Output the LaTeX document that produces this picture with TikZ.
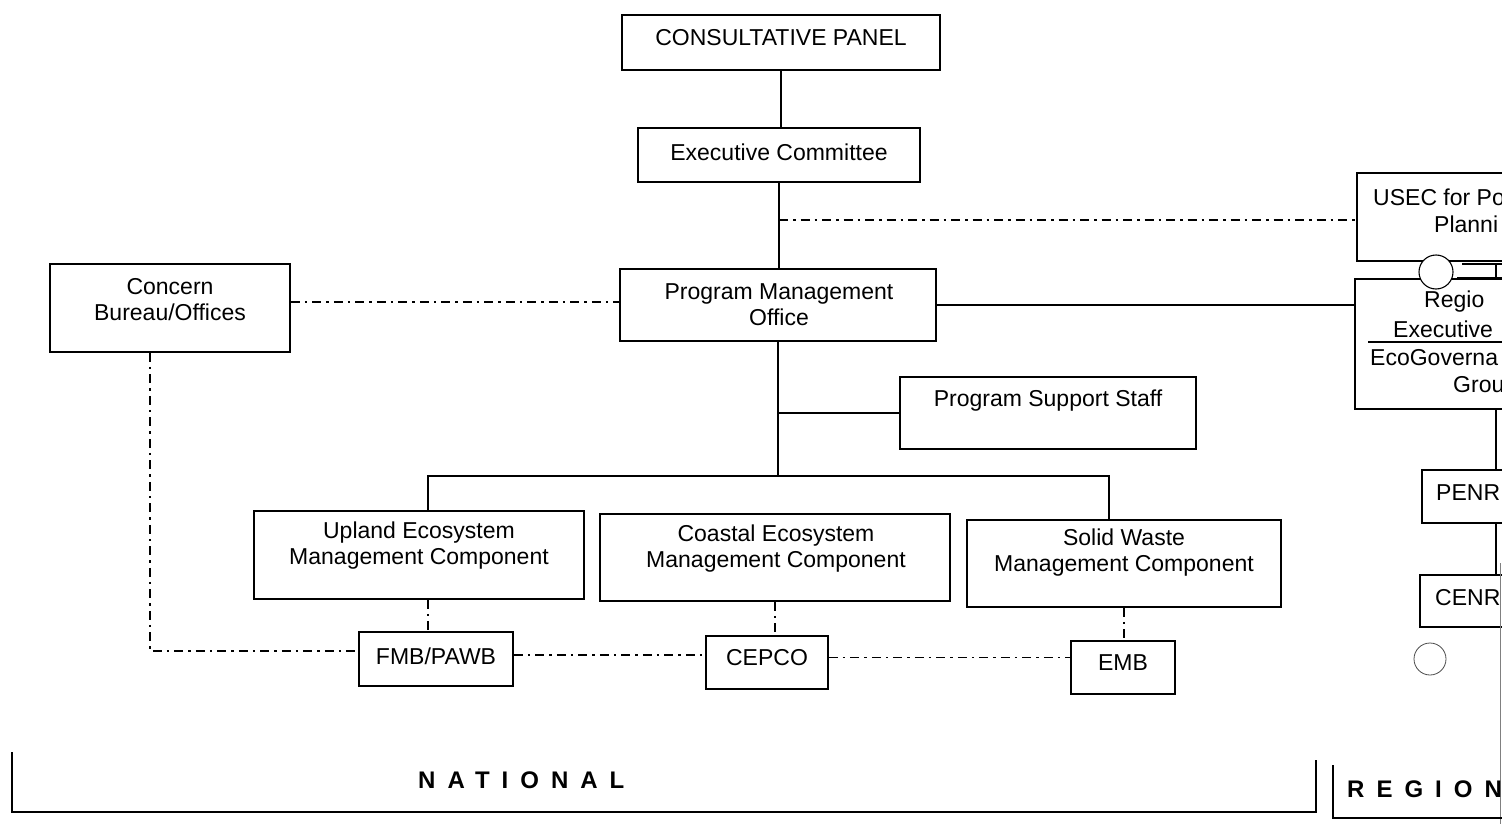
\documentclass[tikz,border=0pt]{standalone}
\usepackage{fontspec}
\setmainfont{Liberation Sans}
\begin{document}
\begin{tikzpicture}[x=1pt,y=-1pt,
  box/.style={draw, line width=1.6pt, inner sep=0pt},
  lbl/.style={font=\fontsize{23}{26}\selectfont, align=center, inner sep=0pt},
  lblw/.style={font=\fontsize{23}{26}\selectfont, anchor=west, inner sep=0pt},
  link/.style={line width=1.6pt},
  ddot/.style={line width=1.8pt, dash pattern=on 9pt off 5pt on 2.5pt off 5pt},
  brk/.style={line width=2.8pt},
  spaced/.style={font=\fontsize{24}{26}\selectfont\bfseries\addfontfeature{LetterSpace=50}, inner sep=0pt, anchor=west}]
\useasboundingbox (0,0) rectangle (1502,824);
\clip (0,0) rectangle (1502,824);
\fill[white] (0,0) rectangle (1502,824);

% ---- boxes ----
\node[box, minimum width=318pt, minimum height=55pt] (cp) at (781,42.5) {};
\node[lbl] (cpt) at (781,38) {CONSULTATIVE PANEL};
\node[box, minimum width=282pt, minimum height=54pt] (ec) at (779,155) {};
\node[lbl] (ect) at (779,152) {Executive Committee};
\node[box, minimum width=316pt, minimum height=72pt] (pmo) at (778,305) {};
\node[lbl] (pmot) at (779,305) {Program Management\\Office};
\node[box, minimum width=240pt, minimum height=88pt] (cb) at (170,308) {};
\node[lbl] (cbt) at (170,300) {Concern\\Bureau/Offices};
\node[box, minimum width=296pt, minimum height=72pt] (pss) at (1048,413) {};
\node[lbl] (psst) at (1048,401) {Program Support Staff};
\node[box, minimum width=330pt, minimum height=88pt] (up) at (419,555) {};
\node[lbl] (upt) at (419,546) {Upland Ecosystem\\Management Component};
\node[box, minimum width=350pt, minimum height=87pt] (co) at (775,557.5) {};
\node[lbl] (cot) at (776,549) {Coastal Ecosystem\\Management Component};
\node[box, minimum width=314pt, minimum height=87pt] (sw) at (1124,563.5) {};
\node[lbl] (swt) at (1124,553) {Solid Waste\\Management Component};
\node[box, minimum width=154pt, minimum height=54pt] (fmb) at (436,659) {};
\node[lbl] (fmbt) at (436,656) {FMB/PAWB};
\node[box, minimum width=122pt, minimum height=53pt] (cep) at (767,662.5) {};
\node[lbl] (cept) at (767,658) {CEPCO};
\node[box, minimum width=104pt, minimum height=53pt] (emb) at (1123,667.5) {};
\node[lbl] (embt) at (1123,663) {EMB};

% ---- right (cut-off) column ----
\node[box, minimum width=243pt, minimum height=88pt] (usec) at (1478.5,217) {};
\node[lblw] (usect1) at (1373,197) {USEC for Po};
\node[lblw] (usect2) at (1434,224) {Planni};
\node[box, minimum width=245pt, minimum height=130pt] (reg) at (1477.5,344) {};
\node[lblw] (regt1) at (1424,302) {Regio};
\node[lblw] (regt2) at (1393,329) {Executive};
\node[lblw] (regt3) at (1370,358) {EcoGoverna};
\node[lblw] (regt4) at (1453,385) {Grou};
\draw[line width=1.2pt] (1368,342) -- (1502,342);
\node[circle, draw, fill=white, line width=1.1pt, minimum size=34pt, inner sep=0pt] (c1) at (1436,272) {};
\draw[line width=1.4pt] (1462,264) -- (1502,264) (1457,278) -- (1502,278) (1496,264) -- (1496,278);
\node[box, minimum width=178pt, minimum height=53pt] (penr) at (1511,496.5) {};
\node[lblw] (penrt) at (1436,493) {PENR};
\node[box, minimum width=180pt, minimum height=52pt] (cenr) at (1510,601) {};
\node[lblw] (cenrt) at (1435,598) {CENR};
\node[circle, draw=black!70, line width=0.8pt, minimum size=32pt, inner sep=0pt] (c2) at (1430,659) {};
\coordinate (rv) at (1496,450);
\draw[link] (reg.south -| rv) -- (penr.north -| rv);
\draw[link] (penr.south -| rv) -- (cenr.north -| rv);
\draw[black!50, line width=0.6pt] (1500.5,563) -- (1500.5,824);

% ---- solid connectors ----
\draw[link] (cp.south) -- (cp.south |- ec.north);
\draw[link] (ec.south) -- (ec.south |- pmo.north);
\draw[link] (pmo.east) -- (pmo.east -| reg.west);
\coordinate (bus) at (779,476);
\draw[link] (pmo.south) -- (pmo.south |- bus);
\draw[link] (pmo.south |- pss.west) -- (pss.west);
\coordinate (bl) at (428,476);
\coordinate (br) at (1109,476);
\draw[link] (bl |- up.north) -- (bl) -- (br) -- (br |- sw.north);

% ---- dash-dot connectors ----
\coordinate (j1) at (779,220);
\draw[ddot] (j1) -- (j1 -| usec.west);
\path ([yshift=6pt]cb.east) coordinate (cbr);
\draw[ddot] (cbr) -- (cbr -| pmo.west);
\draw[ddot] (bl |- up.south) -- (bl |- fmb.north);
\draw[ddot] (co.south) -- (co.south |- cep.north);
\draw[ddot] (sw.south) -- (sw.south |- emb.north);
\coordinate (cc) at (150,651);
\draw[ddot] (cc |- cb.south) -- (cc) -- (cc -| fmb.west);
\path ([yshift=4pt]fmb.east) coordinate (f1);
\draw[ddot] (f1) -- (f1 -| cep.west);
\path ([yshift=5pt]cep.east) coordinate (c3);
\draw[ddot] (c3) -- (c3 -| emb.west);

% ---- level brackets ----
\coordinate (nl) at (12,752);
\coordinate (nb) at (12,812);
\coordinate (nr) at (1316,812);
\coordinate (nrt) at (1316,760);
\draw[brk] (nl) -- (nb) -- (nr) -- (nrt);
\node[spaced] (nat) at (418,780) {NATIONAL};
\coordinate (rl) at (1333,765);
\coordinate (rb) at (1333,818);
\coordinate (rr) at (1502,818);
\draw[brk] (rl) -- (rb) -- (rr);
\node[spaced] (regn) at (1347,789) {REGION};
\end{tikzpicture}
\end{document}
